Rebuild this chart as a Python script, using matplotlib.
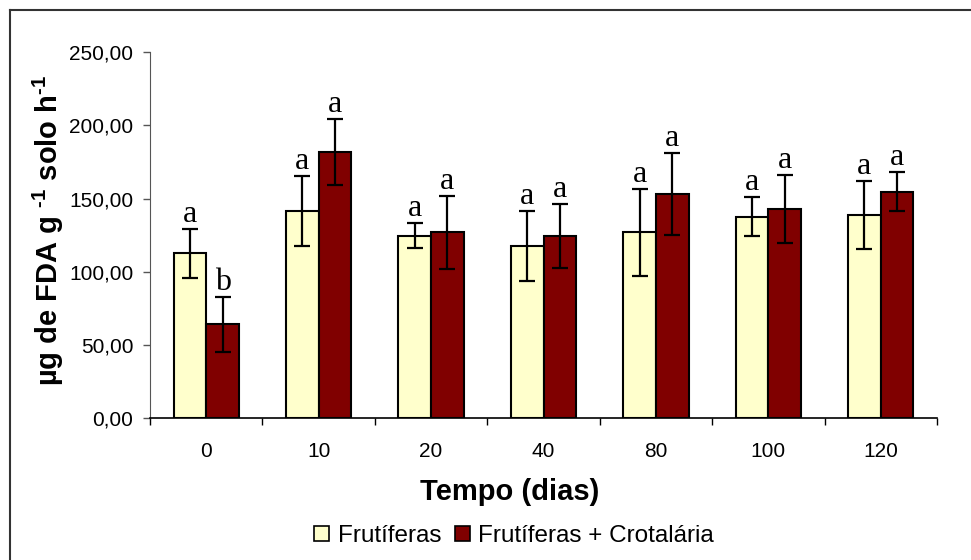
import numpy as np
import matplotlib
matplotlib.use('Agg')
import matplotlib.pyplot as plt
from matplotlib.lines import Line2D
from matplotlib.patches import Patch
from matplotlib.ticker import FuncFormatter, FixedLocator

plt.rcParams['font.family'] = ['Liberation Sans', 'DejaVu Sans']
plt.rcParams['mathtext.fontset'] = 'custom'
plt.rcParams['mathtext.rm'] = 'Liberation Sans'
plt.rcParams['mathtext.bf'] = 'Liberation Sans:bold'

# dados
tempos = ['0', '10', '20', '40', '80', '100', '120']
frut = [112.5, 141.7, 124.6, 117.5, 126.9, 137.6, 138.7]
frut_err = [17.0, 24.0, 8.7, 24.0, 29.5, 13.3, 23.3]
crot = [64.2, 181.7, 126.9, 124.6, 153.4, 142.9, 154.5]
crot_err = [18.7, 22.5, 24.8, 22.0, 28.0, 23.3, 13.3]
letras_frut = ['a', 'a', 'a', 'a', 'a', 'a', 'a']
letras_crot = ['b', 'a', 'a', 'a', 'a', 'a', 'a']

W, H = 971, 560
fig = plt.figure(figsize=(W/100, H/100), dpi=100)
ax = fig.add_axes([150/W, 1-418.3/H, (937-150)/W, (418.3-52)/H])

x = np.arange(len(tempos)) + 0.5
w = 0.29
ax.bar(x - w/2, frut, w, color='#FFFFCC', edgecolor='black', lw=1.5, zorder=2)
ax.bar(x + w/2, crot, w, color='#800000', edgecolor='black', lw=1.5, zorder=2)
ax.errorbar(x - w/2, frut, yerr=frut_err, fmt='none', ecolor='black', elinewidth=1.6, capsize=5.8, capthick=1.6, zorder=3)
ax.errorbar(x + w/2, crot, yerr=crot_err, fmt='none', ecolor='black', elinewidth=1.6, capsize=5.8, capthick=1.6, zorder=3)

for xi, v, e, l in zip(x - w/2, frut, frut_err, letras_frut):
    ax.annotate(l, (xi, v + e), xytext=(0, 0), textcoords='offset points', ha='center', va='bottom',
                family='Liberation Serif', fontsize=23)
for xi, v, e, l in zip(x + w/2, crot, crot_err, letras_crot):
    ax.annotate(l, (xi, v + e), xytext=(0, 0), textcoords='offset points', ha='center', va='bottom',
                family='Liberation Serif', fontsize=23)

ax.set_xlim(0, len(tempos))
ax.set_ylim(0, 250)
ax.set_yticks(np.arange(0, 251, 50))
ax.yaxis.set_major_formatter(FuncFormatter(lambda v, p: ('%.2f' % v).replace('.', ',')))
ax.set_xticks(x)
ax.set_xticklabels(tempos)
ax.xaxis.set_minor_locator(FixedLocator(np.arange(0, len(tempos) + 1)))
ax.tick_params(axis='x', which='major', length=0, pad=17, labelsize=15)
ax.tick_params(axis='x', which='minor', length=5, width=1, direction='out')
ax.tick_params(axis='y', length=5, width=1, direction='out', pad=7, labelsize=15, color='#555555')
ax.spines['top'].set_visible(False)
ax.spines['right'].set_visible(False)
ax.spines['left'].set_color('#555555')
ax.spines['bottom'].set_linewidth(1.2)

fig.text(510/W, 1-492/H, 'Tempo (dias)', ha='center', va='center', fontsize=21, fontweight='bold')
fig.text(48/W, 1-230/H, 'µg de FDA g $^{\\mathbf{\u2010}\\mathbf{1}}$ solo h$^{\\mathbf{\u2010}\\mathbf{1}}$',
         ha='center', va='center', rotation=90, fontsize=21, fontweight='bold')

handles = [Patch(facecolor='#FFFFCC', edgecolor='black', lw=1.2),
           Patch(facecolor='#800000', edgecolor='black', lw=1.2)]
fig.legend(handles, ['Frutíferas', 'Frutíferas + Crotalária'], loc='center', bbox_to_anchor=(514/W, 1-536/H),
           ncol=2, frameon=False, fontsize=17.5, handlelength=0.62, handleheight=0.62,
           handletextpad=0.35, columnspacing=0.55, borderpad=0)

# moldura (so esquerda e topo visiveis)
fig.add_artist(Line2D([10/W, 10/W], [0, 1-10/H], color='#333333', lw=1.5))
fig.add_artist(Line2D([10/W, 1], [1-10/H, 1-10/H], color='#333333', lw=1.5))

fig.savefig('out.png', dpi=100)
